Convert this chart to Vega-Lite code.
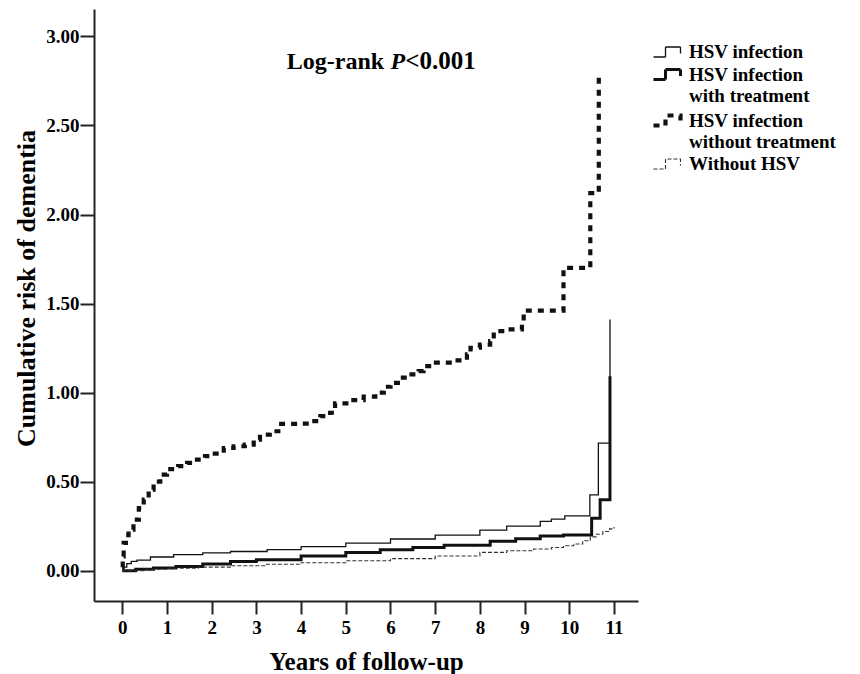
{
  "$schema": "https://vega.github.io/schema/vega-lite/v6.json",
  "width": 544,
  "height": 592,
  "autosize": {"type": "none"},
  "padding": {"left": 94, "top": 9, "right": 222, "bottom": 73},
  "background": "white",
  "config": {"view": {"stroke": null}, "font": "Liberation Serif"},
  "layer": [
    {
      "data": {"values": [
        {"group": "HSV infection", "t": 0, "risk": 0},
        {"group": "HSV infection", "t": 0.02, "risk": 0.02},
        {"group": "HSV infection", "t": 0.1, "risk": 0.04},
        {"group": "HSV infection", "t": 0.2, "risk": 0.052},
        {"group": "HSV infection", "t": 0.33, "risk": 0.06},
        {"group": "HSV infection", "t": 0.63, "risk": 0.077},
        {"group": "HSV infection", "t": 1.15, "risk": 0.09},
        {"group": "HSV infection", "t": 1.8, "risk": 0.1},
        {"group": "HSV infection", "t": 2.42, "risk": 0.108},
        {"group": "HSV infection", "t": 3.24, "risk": 0.118},
        {"group": "HSV infection", "t": 4, "risk": 0.135},
        {"group": "HSV infection", "t": 5, "risk": 0.155},
        {"group": "HSV infection", "t": 6, "risk": 0.178},
        {"group": "HSV infection", "t": 7, "risk": 0.2},
        {"group": "HSV infection", "t": 8, "risk": 0.228},
        {"group": "HSV infection", "t": 8.6, "risk": 0.25},
        {"group": "HSV infection", "t": 9.35, "risk": 0.277},
        {"group": "HSV infection", "t": 9.6, "risk": 0.29},
        {"group": "HSV infection", "t": 9.9, "risk": 0.308},
        {"group": "HSV infection", "t": 10.46, "risk": 0.426},
        {"group": "HSV infection", "t": 10.65, "risk": 0.717},
        {"group": "HSV infection", "t": 10.91, "risk": 1.41},
        {"group": "HSV infection with treatment", "t": 0, "risk": 0},
        {"group": "HSV infection with treatment", "t": 0.3, "risk": 0.008},
        {"group": "HSV infection with treatment", "t": 0.7, "risk": 0.015},
        {"group": "HSV infection with treatment", "t": 1.2, "risk": 0.024},
        {"group": "HSV infection with treatment", "t": 1.8, "risk": 0.038},
        {"group": "HSV infection with treatment", "t": 2.42, "risk": 0.052},
        {"group": "HSV infection with treatment", "t": 3, "risk": 0.062},
        {"group": "HSV infection with treatment", "t": 4, "risk": 0.082},
        {"group": "HSV infection with treatment", "t": 5, "risk": 0.102},
        {"group": "HSV infection with treatment", "t": 5.77, "risk": 0.118},
        {"group": "HSV infection with treatment", "t": 6.5, "risk": 0.13},
        {"group": "HSV infection with treatment", "t": 7.2, "risk": 0.143},
        {"group": "HSV infection with treatment", "t": 8.23, "risk": 0.165},
        {"group": "HSV infection with treatment", "t": 8.8, "risk": 0.18},
        {"group": "HSV infection with treatment", "t": 9.35, "risk": 0.195},
        {"group": "HSV infection with treatment", "t": 9.87, "risk": 0.201},
        {"group": "HSV infection with treatment", "t": 10.5, "risk": 0.295},
        {"group": "HSV infection with treatment", "t": 10.69, "risk": 0.398},
        {"group": "HSV infection with treatment", "t": 10.91, "risk": 1.092},
        {"group": "HSV infection without treatment", "t": 0, "risk": 0.02},
        {"group": "HSV infection without treatment", "t": 0.01, "risk": 0.08},
        {"group": "HSV infection without treatment", "t": 0.03, "risk": 0.156},
        {"group": "HSV infection without treatment", "t": 0.08, "risk": 0.2},
        {"group": "HSV infection without treatment", "t": 0.14, "risk": 0.23},
        {"group": "HSV infection without treatment", "t": 0.25, "risk": 0.287},
        {"group": "HSV infection without treatment", "t": 0.37, "risk": 0.352},
        {"group": "HSV infection without treatment", "t": 0.48, "risk": 0.4},
        {"group": "HSV infection without treatment", "t": 0.59, "risk": 0.455},
        {"group": "HSV infection without treatment", "t": 0.7, "risk": 0.5},
        {"group": "HSV infection without treatment", "t": 0.85, "risk": 0.54},
        {"group": "HSV infection without treatment", "t": 1.0, "risk": 0.571},
        {"group": "HSV infection without treatment", "t": 1.25, "risk": 0.587},
        {"group": "HSV infection without treatment", "t": 1.45, "risk": 0.605},
        {"group": "HSV infection without treatment", "t": 1.67, "risk": 0.624},
        {"group": "HSV infection without treatment", "t": 1.85, "risk": 0.643},
        {"group": "HSV infection without treatment", "t": 2.07, "risk": 0.658},
        {"group": "HSV infection without treatment", "t": 2.27, "risk": 0.689},
        {"group": "HSV infection without treatment", "t": 2.49, "risk": 0.699},
        {"group": "HSV infection without treatment", "t": 2.74, "risk": 0.708},
        {"group": "HSV infection without treatment", "t": 2.94, "risk": 0.736},
        {"group": "HSV infection without treatment", "t": 3.08, "risk": 0.764},
        {"group": "HSV infection without treatment", "t": 3.3, "risk": 0.783},
        {"group": "HSV infection without treatment", "t": 3.49, "risk": 0.824},
        {"group": "HSV infection without treatment", "t": 4.0, "risk": 0.826},
        {"group": "HSV infection without treatment", "t": 4.24, "risk": 0.84},
        {"group": "HSV infection without treatment", "t": 4.43, "risk": 0.868},
        {"group": "HSV infection without treatment", "t": 4.65, "risk": 0.887},
        {"group": "HSV infection without treatment", "t": 4.76, "risk": 0.94},
        {"group": "HSV infection without treatment", "t": 5.1, "risk": 0.958},
        {"group": "HSV infection without treatment", "t": 5.4, "risk": 0.977},
        {"group": "HSV infection without treatment", "t": 5.66, "risk": 1.0},
        {"group": "HSV infection without treatment", "t": 5.85, "risk": 1.033},
        {"group": "HSV infection without treatment", "t": 6.0, "risk": 1.055},
        {"group": "HSV infection without treatment", "t": 6.22, "risk": 1.084},
        {"group": "HSV infection without treatment", "t": 6.41, "risk": 1.103},
        {"group": "HSV infection without treatment", "t": 6.63, "risk": 1.121},
        {"group": "HSV infection without treatment", "t": 6.74, "risk": 1.149},
        {"group": "HSV infection without treatment", "t": 6.96, "risk": 1.168},
        {"group": "HSV infection without treatment", "t": 7.45, "risk": 1.181},
        {"group": "HSV infection without treatment", "t": 7.71, "risk": 1.215},
        {"group": "HSV infection without treatment", "t": 7.79, "risk": 1.252},
        {"group": "HSV infection without treatment", "t": 8.0, "risk": 1.27},
        {"group": "HSV infection without treatment", "t": 8.23, "risk": 1.289},
        {"group": "HSV infection without treatment", "t": 8.31, "risk": 1.345},
        {"group": "HSV infection without treatment", "t": 8.57, "risk": 1.355},
        {"group": "HSV infection without treatment", "t": 8.94, "risk": 1.4},
        {"group": "HSV infection without treatment", "t": 8.98, "risk": 1.46},
        {"group": "HSV infection without treatment", "t": 9.87, "risk": 1.7},
        {"group": "HSV infection without treatment", "t": 10.47, "risk": 2.12},
        {"group": "HSV infection without treatment", "t": 10.66, "risk": 2.8},
        {"group": "Without HSV", "t": 0, "risk": 0},
        {"group": "Without HSV", "t": 0.5, "risk": 0.008},
        {"group": "Without HSV", "t": 1, "risk": 0.014},
        {"group": "Without HSV", "t": 1.7, "risk": 0.02},
        {"group": "Without HSV", "t": 2.42, "risk": 0.028},
        {"group": "Without HSV", "t": 3.2, "risk": 0.036},
        {"group": "Without HSV", "t": 4, "risk": 0.045},
        {"group": "Without HSV", "t": 5, "risk": 0.056},
        {"group": "Without HSV", "t": 6, "risk": 0.068},
        {"group": "Without HSV", "t": 7, "risk": 0.083},
        {"group": "Without HSV", "t": 8, "risk": 0.103},
        {"group": "Without HSV", "t": 8.6, "risk": 0.112},
        {"group": "Without HSV", "t": 9.2, "risk": 0.122},
        {"group": "Without HSV", "t": 9.6, "risk": 0.13},
        {"group": "Without HSV", "t": 9.87, "risk": 0.14},
        {"group": "Without HSV", "t": 10.1, "risk": 0.15},
        {"group": "Without HSV", "t": 10.3, "risk": 0.168},
        {"group": "Without HSV", "t": 10.47, "risk": 0.19},
        {"group": "Without HSV", "t": 10.6, "risk": 0.205},
        {"group": "Without HSV", "t": 10.75, "risk": 0.22},
        {"group": "Without HSV", "t": 10.9, "risk": 0.235},
        {"group": "Without HSV", "t": 11.0, "risk": 0.245}
      ]},
      "mark": {"type": "line", "interpolate": "step-after", "strokeCap": "butt", "clip": true},
      "encoding": {
        "x": {
          "field": "t", "type": "quantitative",
          "scale": {"domain": [-0.633, 11.537], "nice": false, "zero": false},
          "axis": {
            "values": [0, 1, 2, 3, 4, 5, 6, 7, 8, 9, 10, 11], "format": "d",
            "grid": false, "domainColor": "#222", "domainWidth": 2,
            "tickColor": "#222", "tickWidth": 2, "tickSize": 13,
            "labelFont": "Liberation Serif", "labelFontSize": 19, "labelFontWeight": "bold",
            "labelColor": "black", "labelPadding": 4, "labelFlush": false,
            "title": "Years of follow-up", "titleFont": "Liberation Serif", "titleFontSize": 25,
            "titleFontWeight": "bold", "titleColor": "black", "titleY": 68, "titleBaseline": "alphabetic"
          }
        },
        "y": {
          "field": "risk", "type": "quantitative",
          "scale": {"domain": [-0.17, 3.154], "nice": false, "zero": false},
          "axis": {
            "values": [0, 0.5, 1, 1.5, 2, 2.5, 3], "format": ".2f",
            "grid": false, "domainColor": "#222", "domainWidth": 2,
            "tickColor": "#222", "tickWidth": 2, "tickSize": 14,
            "labelFont": "Liberation Serif", "labelFontSize": 19, "labelFontWeight": "bold",
            "labelColor": "black", "labelPadding": 1, "labelFlush": false,
            "title": "Cumulative risk of dementia", "titleFont": "Liberation Serif", "titleFontSize": 26,
            "titleFontWeight": "bold", "titleColor": "black", "titleX": -60, "titleY": 279, "titleBaseline": "alphabetic"
          }
        },
        "color": {
          "field": "group", "type": "nominal",
          "scale": {
            "domain": ["HSV infection", "HSV infection with treatment", "HSV infection without treatment", "Without HSV"],
            "range": ["#111111", "#111111", "#111111", "#333333"]
          },
          "legend": {
            "orient": "none", "legendX": 562, "legendY": 32, "title": null,
            "labelFont": "Liberation Serif", "labelFontSize": 19, "labelFontWeight": "bold",
            "labelColor": "black", "labelLimit": 0, "labelOffset": 8,
            "symbolType": "M-1.5,0.5H-0.3V-0.5H1.2V0.15", "symbolSize": 400,
            "rowPadding": 1, "padding": 0,
            "labelExpr": "datum.label == 'HSV infection with treatment' ? ['HSV infection', 'with treatment'] : datum.label == 'HSV infection without treatment' ? ['HSV infection', 'without treatment'] : datum.label",
            "encode": {"symbols": {"update": {
              "fill": {"value": "transparent"},
              "strokeWidth": {"scale": "strokeWidth", "field": "value"},
              "strokeDash": {"scale": "strokeDash", "field": "value"}
            }}}
          }
        },
        "strokeDash": {
          "field": "group", "type": "nominal",
          "scale": {
            "domain": ["HSV infection", "HSV infection with treatment", "HSV infection without treatment", "Without HSV"],
            "range": [[1, 0], [1, 0], [6, 6], [4, 2]]
          }
        },
        "strokeWidth": {
          "field": "group", "type": "nominal",
          "scale": {
            "type": "ordinal",
            "domain": ["HSV infection", "HSV infection with treatment", "HSV infection without treatment", "Without HSV"],
            "range": [1.3, 3, 4.2, 1.1]
          }
        }
      }
    },
    {
      "data": {"values": [{}]},
      "mark": {"type": "text", "text": "Log-rank", "font": "Liberation Serif", "fontWeight": "bold", "fontSize": 24, "align": "left", "baseline": "alphabetic", "fill": "black"},
      "encoding": {"x": {"datum": 3.68}, "y": {"datum": 2.817}}
    },
    {
      "data": {"values": [{}]},
      "mark": {"type": "text", "text": "P", "font": "Liberation Serif", "fontWeight": "bold", "fontStyle": "italic", "fontSize": 24, "align": "left", "baseline": "alphabetic", "fill": "black"},
      "encoding": {"x": {"datum": 6.0}, "y": {"datum": 2.817}}
    },
    {
      "data": {"values": [{}]},
      "mark": {"type": "text", "text": "<0.001", "font": "Liberation Serif", "fontWeight": "bold", "fontSize": 25, "align": "left", "baseline": "alphabetic", "fill": "black"},
      "encoding": {"x": {"datum": 6.33}, "y": {"datum": 2.817}}
    }
  ]
}
